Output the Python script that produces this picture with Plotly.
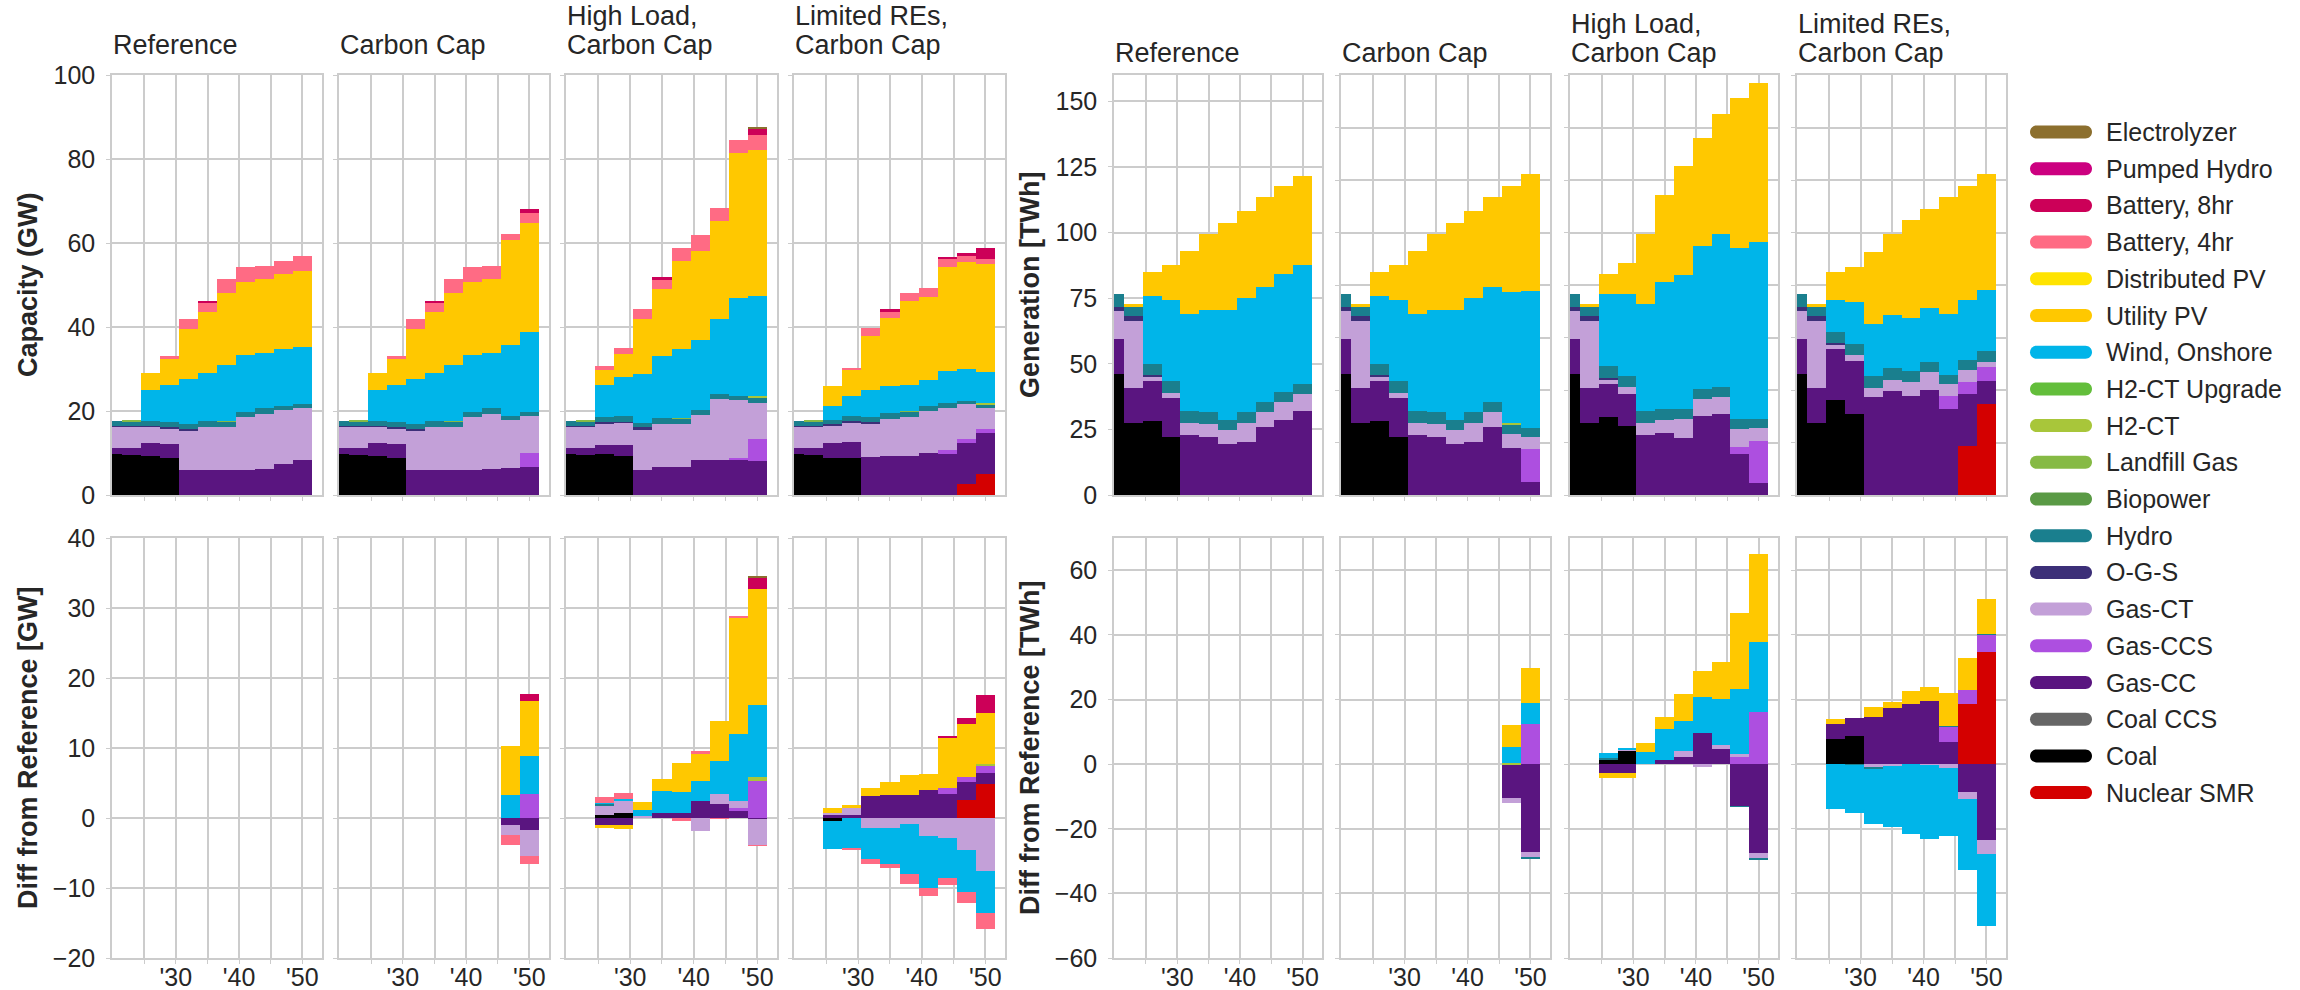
import plotly.graph_objects as go

# ---------------------------------------------------------------- categories
YEARS = [2020, 2023, 2026, 2029, 2032, 2035, 2038, 2041, 2044, 2047, 2050]
SCENARIOS = ["Reference", "Carbon Cap", "High Load", "Limited REs"]
SCENARIO_TITLES = [["Reference"], ["Carbon Cap"], ["High Load,", "Carbon Cap"], ["Limited REs,", "Carbon Cap"]]

TECHS = ["Nuclear SMR", "Coal", "Coal CCS", "Gas-CC", "Gas-CCS", "Gas-CT", "O-G-S", "Hydro",
         "Biopower", "Landfill Gas", "H2-CT", "H2-CT Upgrade", "Wind, Onshore", "Utility PV",
         "Distributed PV", "Battery, 4hr", "Battery, 8hr", "Pumped Hydro", "Electrolyzer"]
COLORS = ["#D40000", "#000000", "#666666", "#5A1580", "#AD4FE0", "#C3A0D8", "#3C2F78", "#1A7F8E",
          "#5A9A45", "#86BA45", "#A8C63A", "#63BE3B", "#00B5E9", "#FFC800",
          "#FFE300", "#FF6B84", "#CC0058", "#CC0080", "#8C6F2E"]

X_TICK_VALUES = [2025, 2030, 2035, 2040, 2045, 2050]
X_TICK_LABELS = ["", "'30", "", "'40", "", "'50"]

# ---------------------------------------------------------------- capacity (GW)
CAP_REF_COAL = [9.7, 9.5, 9.2, 8.7, 0, 0, 0, 0, 0, 0, 0]
CAP_REF_GASCC = [1.4, 1.6, 3.2, 3.4, 5.9, 5.9, 5.9, 5.9, 6.3, 7.4, 8.3]
CAP_REF_GASCT = [5.1, 5.1, 3.8, 3.7, 9.5, 10.3, 10.3, 12.7, 13.1, 12.8, 12.3]
CAP_REF_OGS = [0.3, 0.3, 0.3, 0.3, 0.4, 0, 0, 0, 0, 0, 0]
CAP_REF_HYDRO = [1.1, 1.1, 1.1, 1.3, 1.0, 1.4, 1.2, 1.2, 1.2, 0.9, 1.0]
CAP_REF_LFG = [0, 0.2, 0, 0, 0, 0, 0.2, 0, 0, 0, 0]
CAP_REF_WIND = [0, 0, 7.3, 8.9, 10.9, 11.5, 13.4, 13.6, 13.2, 13.7, 13.6]
CAP_REF_UPV = [0, 0, 4.1, 6.1, 11.8, 14.4, 17.0, 17.4, 17.6, 17.9, 18.2]
CAP_REF_BAT4 = [0, 0, 0, 0.6, 2.4, 2.3, 3.4, 3.4, 3.1, 2.9, 3.5]
CAP_REF_BAT8 = [0, 0, 0, 0, 0, 0.4, 0, 0, 0, 0, 0]

CAP_CC_COAL = [9.7, 9.5, 9.2, 8.7, 0, 0, 0, 0, 0, 0, 0]
CAP_CC_GASCC = [1.4, 1.6, 3.2, 3.4, 5.9, 5.9, 5.9, 5.9, 6.3, 6.4, 6.6]
CAP_CC_GASCCS = [0, 0, 0, 0, 0, 0, 0, 0, 0, 0, 3.5]
CAP_CC_GASCT = [5.1, 5.1, 3.8, 3.7, 9.5, 10.3, 10.3, 12.7, 13.1, 11.4, 8.6]
CAP_CC_OGS = [0.3, 0.3, 0.3, 0.3, 0.4, 0, 0, 0, 0, 0, 0]
CAP_CC_HYDRO = [1.1, 1.1, 1.1, 1.3, 1.0, 1.4, 1.2, 1.2, 1.2, 0.9, 1.0]
CAP_CC_LFG = [0, 0.2, 0, 0, 0, 0, 0.2, 0, 0, 0, 0]
CAP_CC_WIND = [0, 0, 7.3, 8.9, 10.9, 11.5, 13.4, 13.6, 13.2, 17.0, 19.0]
CAP_CC_UPV = [0, 0, 4.1, 6.1, 11.8, 14.4, 17.0, 17.4, 17.6, 24.9, 26.0]
CAP_CC_BAT4 = [0, 0, 0, 0.6, 2.4, 2.3, 3.4, 3.4, 3.1, 1.5, 2.4]
CAP_CC_BAT8 = [0, 0, 0, 0, 0, 0.4, 0, 0, 0, 0, 1.0]

CAP_HL_COAL = [9.7, 9.5, 9.7, 9.4, 0, 0, 0, 0, 0, 0, 0]
CAP_HL_GASCC = [1.4, 1.6, 2.2, 2.4, 5.9, 6.6, 6.6, 8.3, 8.3, 8.4, 8.1]
CAP_HL_GASCCS = [0, 0, 0, 0, 0, 0, 0, 0, 0, 0.5, 5.3]
CAP_HL_GASCT = [5.1, 5.1, 5.1, 5.4, 9.8, 10.3, 10.3, 10.8, 14.6, 13.8, 8.6]
CAP_HL_OGS = [0.3, 0.3, 0.3, 0.3, 0.4, 0, 0, 0, 0, 0, 0]
CAP_HL_HYDRO = [1.1, 1.1, 1.3, 1.3, 1.0, 1.4, 1.2, 1.2, 1.2, 0.9, 1.0]
CAP_HL_LFG = [0, 0.2, 0, 0, 0, 0, 0.2, 0, 0, 0, 0]
CAP_HL_H2CT = [0, 0, 0, 0, 0, 0, 0, 0, 0, 0, 0.5]
CAP_HL_WIND = [0, 0, 7.5, 9.2, 11.8, 14.7, 16.4, 16.5, 17.8, 23.2, 23.9]
CAP_HL_UPV = [0, 0, 3.7, 5.5, 12.9, 16.1, 21.1, 21.2, 23.4, 34.6, 34.8]
CAP_HL_BAT4 = [0, 0, 0.8, 1.5, 2.4, 2.3, 3.0, 3.9, 3.0, 3.1, 3.4]
CAP_HL_BAT8 = [0, 0, 0, 0, 0, 0.4, 0, 0, 0, 0, 1.6]
CAP_HL_ELEC = [0, 0, 0, 0, 0, 0, 0, 0, 0, 0, 0.3]

CAP_LR_NUC = [0, 0, 0, 0, 0, 0, 0, 0, 0, 2.6, 4.9]
CAP_LR_COAL = [9.7, 9.5, 8.8, 8.7, 0, 0, 0, 0, 0, 0, 0]
CAP_LR_GASCC = [1.4, 1.6, 3.6, 3.9, 9.0, 9.2, 9.2, 9.9, 9.8, 9.9, 9.9]
CAP_LR_GASCCS = [0, 0, 0, 0, 0, 0, 0, 0, 0.8, 0.8, 1.0]
CAP_LR_GASCT = [5.1, 5.1, 4.1, 4.7, 8.1, 8.9, 9.4, 10.2, 10.2, 8.3, 4.8]
CAP_LR_OGS = [0.3, 0.3, 0.3, 0.3, 0.4, 0, 0, 0, 0, 0, 0]
CAP_LR_HYDRO = [1.1, 1.1, 1.1, 1.3, 1.0, 1.4, 1.2, 1.2, 1.2, 0.9, 1.0]
CAP_LR_LFG = [0, 0.2, 0, 0, 0, 0, 0.2, 0, 0, 0, 0]
CAP_LR_H2CT = [0, 0, 0, 0, 0, 0, 0, 0, 0, 0, 0.2]
CAP_LR_WIND = [0, 0, 3.3, 4.6, 6.4, 6.4, 6.3, 6.1, 7.5, 7.6, 7.6]
CAP_LR_UPV = [0, 0, 4.8, 6.4, 13.0, 16.2, 19.9, 19.7, 24.7, 25.4, 25.5]
CAP_LR_BAT4 = [0, 0, 0, 0.4, 1.8, 1.7, 2.0, 2.3, 2.1, 1.3, 1.2]
CAP_LR_BAT8 = [0, 0, 0, 0, 0, 0.4, 0, 0, 0.3, 0.9, 2.6]

# ---------------------------------------------------------------- generation (TWh)
GEN_REF_COAL = [46.1, 27.5, 28.3, 22.2, 0, 0, 0, 0, 0, 0, 0]
GEN_REF_GASCC = [13.5, 13.1, 15.2, 14.6, 22.8, 22.2, 19.4, 20.3, 26.0, 28.6, 32.1]
GEN_REF_GASCT = [10.6, 25.8, 1.6, 2.2, 4.5, 4.8, 5.3, 7.2, 5.7, 6.7, 6.4]
GEN_REF_OGS = [1.5, 1.7, 0.6, 0, 0, 0, 0, 0, 0, 0, 0]
GEN_REF_HYDRO = [4.7, 3.6, 4.2, 4.4, 4.8, 4.5, 3.9, 4.0, 3.6, 3.8, 3.8]
GEN_REF_WIND = [0, 0, 25.9, 30.8, 36.8, 38.9, 41.8, 43.4, 44.0, 45.0, 45.5]
GEN_REF_UPV = [0, 0.9, 9.1, 13.6, 24.1, 29.2, 33.4, 33.3, 34.3, 33.5, 33.6]

GEN_CC_COAL = [46.1, 27.5, 28.3, 22.2, 0, 0, 0, 0, 0, 0, 0]
GEN_CC_GASCC = [13.5, 13.1, 15.2, 14.6, 22.8, 22.2, 19.4, 20.3, 26.0, 18.0, 5.0]
GEN_CC_GASCCS = [0, 0, 0, 0, 0, 0, 0, 0, 0, 0, 12.5]
GEN_CC_GASCT = [10.6, 25.8, 1.6, 2.2, 4.5, 4.8, 5.3, 7.2, 5.7, 5.2, 4.6]
GEN_CC_OGS = [1.5, 1.7, 0.6, 0, 0, 0, 0, 0, 0, 0, 0]
GEN_CC_HYDRO = [4.7, 3.6, 4.2, 4.4, 4.8, 4.5, 3.9, 4.0, 3.6, 3.8, 3.6]
GEN_CC_H2CT = [0, 0, 0, 0, 0, 0, 0, 0, 0, 0.3, 0]
GEN_CC_WIND = [0, 0, 25.9, 30.8, 36.8, 38.9, 41.8, 43.4, 44.0, 50.0, 52.0]
GEN_CC_UPV = [0, 0.9, 9.1, 13.6, 24.1, 29.2, 33.4, 33.3, 34.3, 40.3, 44.4]

GEN_HL_COAL = [46.1, 27.5, 29.8, 26.3, 0, 0, 0, 0, 0, 0, 0]
GEN_HL_GASCC = [13.5, 13.1, 12.6, 12.0, 22.8, 23.6, 21.7, 30.0, 30.8, 15.6, 4.5]
GEN_HL_GASCCS = [0, 0, 0, 0, 0, 0, 0, 0, 0, 2.5, 16.1]
GEN_HL_GASCT = [10.6, 25.8, 1.6, 2.7, 4.5, 4.8, 7.1, 6.4, 6.7, 7.2, 4.8]
GEN_HL_OGS = [1.5, 1.7, 0.6, 0, 0, 0, 0, 0, 0, 0, 0]
GEN_HL_HYDRO = [4.7, 3.6, 4.5, 4.4, 4.8, 4.5, 3.9, 4.0, 3.6, 3.6, 3.5]
GEN_HL_WIND = [0, 0, 27.5, 31.2, 40.6, 48.3, 51.1, 54.5, 58.4, 65.3, 67.3]
GEN_HL_UPV = [0, 0.9, 7.5, 11.8, 26.7, 33.0, 41.6, 41.2, 45.8, 57.0, 60.9]

GEN_LR_NUC = [0, 0, 0, 0, 0, 0, 0, 0, 0, 18.6, 34.8]
GEN_LR_COAL = [46.1, 27.5, 36.2, 31.0, 0, 0, 0, 0, 0, 0, 0]
GEN_LR_GASCC = [13.5, 13.1, 19.6, 20.2, 37.4, 39.5, 37.9, 39.9, 32.8, 20.0, 8.6]
GEN_LR_GASCCS = [0, 0, 0, 0, 0, 0, 0, 0, 4.8, 4.4, 5.4]
GEN_LR_GASCT = [10.6, 25.8, 1.6, 2.2, 3.4, 4.3, 5.3, 6.9, 4.5, 4.6, 2.0]
GEN_LR_OGS = [1.5, 1.7, 0.6, 0, 0, 0, 0, 0, 0, 0, 0]
GEN_LR_HYDRO = [4.7, 3.6, 4.2, 4.0, 4.4, 4.5, 3.9, 4.0, 3.8, 3.8, 4.0]
GEN_LR_WIND = [0, 0, 12.0, 16.0, 19.9, 20.1, 20.2, 20.4, 23.0, 22.9, 23.2]
GEN_LR_UPV = [0, 0.9, 10.8, 13.6, 27.3, 31.0, 37.4, 37.6, 44.5, 43.5, 44.2]

# ---------------------------------------------------------------- tables built from the arrays
CAP = {
    "Reference": {"Coal": CAP_REF_COAL, "Gas-CC": CAP_REF_GASCC, "Gas-CT": CAP_REF_GASCT,
                  "O-G-S": CAP_REF_OGS, "Hydro": CAP_REF_HYDRO, "Landfill Gas": CAP_REF_LFG,
                  "Wind, Onshore": CAP_REF_WIND, "Utility PV": CAP_REF_UPV,
                  "Battery, 4hr": CAP_REF_BAT4, "Battery, 8hr": CAP_REF_BAT8},
    "Carbon Cap": {"Coal": CAP_CC_COAL, "Gas-CC": CAP_CC_GASCC, "Gas-CCS": CAP_CC_GASCCS,
                   "Gas-CT": CAP_CC_GASCT, "O-G-S": CAP_CC_OGS, "Hydro": CAP_CC_HYDRO,
                   "Landfill Gas": CAP_CC_LFG, "Wind, Onshore": CAP_CC_WIND, "Utility PV": CAP_CC_UPV,
                   "Battery, 4hr": CAP_CC_BAT4, "Battery, 8hr": CAP_CC_BAT8},
    "High Load": {"Coal": CAP_HL_COAL, "Gas-CC": CAP_HL_GASCC, "Gas-CCS": CAP_HL_GASCCS,
                  "Gas-CT": CAP_HL_GASCT, "O-G-S": CAP_HL_OGS, "Hydro": CAP_HL_HYDRO,
                  "Landfill Gas": CAP_HL_LFG, "H2-CT": CAP_HL_H2CT, "Wind, Onshore": CAP_HL_WIND,
                  "Utility PV": CAP_HL_UPV, "Battery, 4hr": CAP_HL_BAT4, "Battery, 8hr": CAP_HL_BAT8,
                  "Electrolyzer": CAP_HL_ELEC},
    "Limited REs": {"Nuclear SMR": CAP_LR_NUC, "Coal": CAP_LR_COAL, "Gas-CC": CAP_LR_GASCC,
                    "Gas-CCS": CAP_LR_GASCCS, "Gas-CT": CAP_LR_GASCT, "O-G-S": CAP_LR_OGS,
                    "Hydro": CAP_LR_HYDRO, "Landfill Gas": CAP_LR_LFG, "H2-CT": CAP_LR_H2CT,
                    "Wind, Onshore": CAP_LR_WIND, "Utility PV": CAP_LR_UPV,
                    "Battery, 4hr": CAP_LR_BAT4, "Battery, 8hr": CAP_LR_BAT8},
}
GEN = {
    "Reference": {"Coal": GEN_REF_COAL, "Gas-CC": GEN_REF_GASCC, "Gas-CT": GEN_REF_GASCT,
                  "O-G-S": GEN_REF_OGS, "Hydro": GEN_REF_HYDRO, "Wind, Onshore": GEN_REF_WIND,
                  "Utility PV": GEN_REF_UPV},
    "Carbon Cap": {"Coal": GEN_CC_COAL, "Gas-CC": GEN_CC_GASCC, "Gas-CCS": GEN_CC_GASCCS,
                   "Gas-CT": GEN_CC_GASCT, "O-G-S": GEN_CC_OGS, "Hydro": GEN_CC_HYDRO,
                   "H2-CT": GEN_CC_H2CT, "Wind, Onshore": GEN_CC_WIND, "Utility PV": GEN_CC_UPV},
    "High Load": {"Coal": GEN_HL_COAL, "Gas-CC": GEN_HL_GASCC, "Gas-CCS": GEN_HL_GASCCS,
                  "Gas-CT": GEN_HL_GASCT, "O-G-S": GEN_HL_OGS, "Hydro": GEN_HL_HYDRO,
                  "Wind, Onshore": GEN_HL_WIND, "Utility PV": GEN_HL_UPV},
    "Limited REs": {"Nuclear SMR": GEN_LR_NUC, "Coal": GEN_LR_COAL, "Gas-CC": GEN_LR_GASCC,
                    "Gas-CCS": GEN_LR_GASCCS, "Gas-CT": GEN_LR_GASCT, "O-G-S": GEN_LR_OGS,
                    "Hydro": GEN_LR_HYDRO, "Wind, Onshore": GEN_LR_WIND, "Utility PV": GEN_LR_UPV},
}

# ---------------------------------------------------------------- style / layout
W, H = 2300, 990
FONT = "Liberation Sans, Arial, Helvetica, sans-serif"
TXT = "#262626"
GRID = "#cccccc"
CAP_X = [(112, 322), (339, 549), (566, 777), (794, 1005)]
GEN_X = [(1114, 1322), (1341, 1550), (1570, 1778), (1797, 2006)]
ROW_Y = [(75, 495), (538, 958)]
X_RANGE = [2019.9, 2053.1]


def series(table, scen, tech):
    return table[scen].get(tech, [0] * len(YEARS))


def nz(vals):
    return [None if abs(v) < 1e-9 else v for v in vals]


fig = go.Figure()
layout = {}

groups = [("cap", CAP, CAP_X), ("gen", GEN, GEN_X)]
for m, (key, table, xs) in enumerate(groups):
    for r in range(2):
        for s, scen in enumerate(SCENARIOS):
            n = m * 8 + r * 4 + s + 1
            xa, ya = f"x{n}", f"y{n}"
            for ti, tech in enumerate(TECHS):
                vals = series(table, scen, tech)
                if r == 1:
                    ref = series(table, "Reference", tech)
                    vals = [round(a - b, 4) for a, b in zip(vals, ref)]
                fig.add_trace(go.Bar(
                    x=YEARS, y=nz(vals), width=[3] * len(YEARS), name=tech,
                    marker=dict(color=COLORS[ti], line=dict(width=0)),
                    xaxis=xa, yaxis=ya, showlegend=False, legendgroup=tech,
                ))
            x0, x1 = xs[s]
            y0, y1 = ROW_Y[r]
            axis_common = dict(showline=True, mirror=True, linecolor=GRID, linewidth=1.5,
                               showgrid=True, gridcolor=GRID, gridwidth=1.5, zeroline=False,
                               ticks="outside", ticklen=4, tickcolor=GRID, tickwidth=1,
                               automargin=False,
                               tickfont=dict(family=FONT, size=25, color=TXT))
            layout[f"xaxis{n}"] = dict(
                axis_common, domain=[x0 / W, x1 / W], anchor=ya, range=X_RANGE,
                tickmode="array", tickvals=X_TICK_VALUES, ticktext=X_TICK_LABELS,
                showticklabels=(r == 1), ticklabelstandoff=-8)
            if key == "cap":
                rng, dt = ([0, 100], 20) if r == 0 else ([-20, 40], 10)
            else:
                if r == 0:
                    rng, dt = [0, 160], (25 if s == 0 else 20)
                else:
                    rng, dt = [-60, 70], 20
            layout[f"yaxis{n}"] = dict(
                axis_common, domain=[1 - y1 / H, 1 - y0 / H], anchor=xa, range=rng,
                tick0=0, dtick=dt, showticklabels=(s == 0), ticklabelstandoff=6)

annotations = []
# panel titles
for m, xs in enumerate([CAP_X, GEN_X]):
    base = 55 if m == 0 else 63
    for s, lines in enumerate(SCENARIO_TITLES):
        for li, line in enumerate(reversed(lines)):
            bl = base - li * 28.7
            annotations.append(dict(
                text=line, xref="paper", yref="paper", x=xs[s][0] / W, xanchor="left",
                y=1 - (bl + 7) / H, yanchor="bottom", showarrow=False, xshift=-1,
                font=dict(family=FONT, size=27, color=TXT)))

# axis titles
AXIS_TITLES = [("Capacity (GW)", 28, 0), ("Diff from Reference [GW]", 28, 1),
               ("Generation [TWh]", 1030, 0), ("Diff from Reference [TWh]", 1030, 1)]
for text, xc, r in AXIS_TITLES:
    yc = (ROW_Y[r][0] + ROW_Y[r][1]) / 2
    annotations.append(dict(
        text=f"<b>{text}</b>", xref="paper", yref="paper", x=xc / W, y=1 - yc / H,
        xanchor="center", yanchor="middle", textangle=-90, showarrow=False,
        font=dict(family=FONT, size=27, color=TXT)))

# legend (rounded swatches + labels)
shapes = []
k = 0.5523


def P(x, y):
    return f"{x / W:.6f},{1 - y / H:.6f}"


for i, ti in enumerate(reversed(range(len(TECHS)))):
    cy = 132 + i * 36.7
    xl, xr, rr = 2030, 2092, 6.5
    yt, yb = cy - rr, cy + rr
    path = (f"M{P(xl + rr, yt)} L{P(xr - rr, yt)} "
            f"C{P(xr - rr + k * rr, yt)} {P(xr, cy - k * rr)} {P(xr, cy)} "
            f"C{P(xr, cy + k * rr)} {P(xr - rr + k * rr, yb)} {P(xr - rr, yb)} "
            f"L{P(xl + rr, yb)} "
            f"C{P(xl + rr - k * rr, yb)} {P(xl, cy + k * rr)} {P(xl, cy)} "
            f"C{P(xl, cy - k * rr)} {P(xl + rr - k * rr, yt)} {P(xl + rr, yt)} Z")
    shapes.append(dict(type="path", xref="paper", yref="paper", path=path,
                       fillcolor=COLORS[ti], line=dict(width=0)))
    annotations.append(dict(
        text=TECHS[ti], xref="paper", yref="paper", x=2104 / W, y=1 - cy / H,
        xanchor="left", yanchor="middle", showarrow=False,
        font=dict(family=FONT, size=25, color=TXT)))

fig.update_layout(
    width=W, height=H, autosize=False,
    margin=dict(l=0, r=0, t=0, b=0, autoexpand=False),
    paper_bgcolor="white", plot_bgcolor="white",
    barmode="relative", bargap=0, showlegend=False,
    font=dict(family=FONT, color=TXT),
    annotations=annotations, shapes=shapes,
    **layout,
)

fig.write_html("out.html")
